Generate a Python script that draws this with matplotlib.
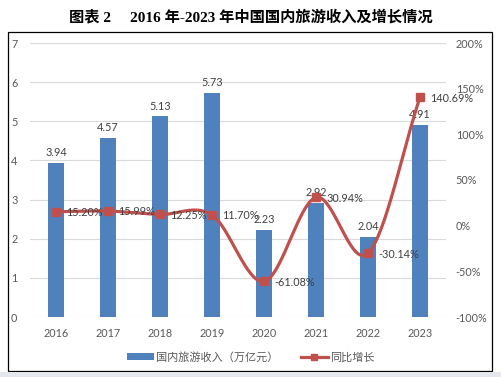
import numpy as np
import matplotlib.pyplot as plt
from matplotlib.patches import Rectangle
from matplotlib.ticker import FuncFormatter

plt.rcParams['font.family'] = ['Lato', 'Noto Sans CJK SC', 'DejaVu Sans']

# du lieu
years = ['2016', '2017', '2018', '2019', '2020', '2021', '2022', '2023']
income = [3.94, 4.57, 5.13, 5.73, 2.23, 2.92, 2.04, 4.91]          # 万亿元
growth = [15.20, 15.99, 12.25, 11.70, -61.08, 30.94, -30.14, 140.69]  # %

bar_color = '#4F81BD'
line_color = '#C0504D'
txt_color = '#595959'


def catmull_rom(xs, ys, n=40):
    # duong cong muot kieu Excel (chi de ve, khong them du lieu)
    xs = np.asarray(xs, float)
    ys = np.asarray(ys, float)
    px = np.concatenate([[2 * xs[0] - xs[1]], xs, [2 * xs[-1] - xs[-2]]])
    py = np.concatenate([[2 * ys[0] - ys[1]], ys, [2 * ys[-1] - ys[-2]]])
    out_x, out_y = [], []
    t = np.linspace(0, 1, n)
    for i in range(1, len(px) - 2):
        for p, out in ((px, out_x), (py, out_y)):
            p0, p1, p2, p3 = p[i - 1], p[i], p[i + 1], p[i + 2]
            out.extend(0.5 * ((2 * p1) + (-p0 + p2) * t
                              + (2 * p0 - 5 * p1 + 4 * p2 - p3) * t ** 2
                              + (-p0 + 3 * p1 - 3 * p2 + p3) * t ** 3))
    return np.array(out_x), np.array(out_y)


fig = plt.figure(figsize=(5.02, 3.77), dpi=100)

# khung vien
fig.patches.append(Rectangle((8 / 502, 1 - 371 / 377), 484 / 502, 339 / 377,
                             transform=fig.transFigure, fill=False,
                             edgecolor='black', linewidth=0.9))
fig.patches.append(Rectangle((0, 0), 1, 5 / 377, transform=fig.transFigure,
                             facecolor='#E4E8EE', edgecolor='none'))

fig.text(0.5, 1 - 17 / 377, '图表 2\u3000 2016 年-2023 年中国国内旅游收入及增长情况',
         ha='center', va='center', fontsize=11, fontweight='bold',
         family=['Liberation Serif', 'Noto Sans CJK SC'], color='black')

ax = fig.add_axes([30 / 502, 1 - 317 / 377, 416 / 502, 274 / 377])
x = np.arange(len(years))
bars = ax.bar(x, income, width=0.31, color=bar_color, zorder=2,
              label='国内旅游收入（万亿元）')
for xi, v in zip(x, income):
    ax.text(xi, v + 0.12, f'{v:.2f}', ha='center', va='bottom',
            fontsize=7.8, color='#404040', zorder=5)

ax.set_xlim(-0.5, len(years) - 0.5)
ax.set_ylim(0, 7)
ax.set_yticks(range(0, 8))
ax.set_xticks(x)
ax.set_xticklabels(years)
ax.grid(axis='y', color='#D9D9D9', linewidth=0.8, zorder=0)
ax.set_axisbelow(True)
for s in ax.spines.values():
    s.set_visible(False)
ax.tick_params(axis='both', length=0, labelsize=7.8, labelcolor=txt_color)
ax.tick_params(axis='y', pad=9)
ax.tick_params(axis='x', pad=8)

ax2 = ax.twinx()
ax2.set_ylim(-100, 200)
ax2.set_yticks(range(-100, 201, 50))
ax2.yaxis.set_major_formatter(FuncFormatter(lambda v, p: f'{v:.0f}%'))
for s in ax2.spines.values():
    s.set_visible(False)
ax2.tick_params(axis='y', length=0, labelsize=7.8, labelcolor=txt_color, pad=7)

sx, sy = catmull_rom(x, growth)
ax2.plot(sx, sy, color=line_color, linewidth=2.3, zorder=3,
         solid_capstyle='round')
ax2.plot(x, growth, linestyle='none', marker='s', markersize=5.8,
         color=line_color, zorder=4)
for xi, g in zip(x, growth):
    ax2.text(xi + 0.2, g - 1, f'{g:.2f}%', ha='left', va='center',
             fontsize=7.8, color='#404040', zorder=5)

# chu thich
h_line, = ax2.plot([], [], color=line_color, linewidth=2.3, marker='s',
                   markersize=5)
fig.legend([bars, h_line], ['国内旅游收入（万亿元）', '同比增长'],
           loc='center', bbox_to_anchor=(0.5, 1 - 357 / 377), ncol=2,
           frameon=False, fontsize=8, handlelength=2.4, handleheight=0.5,
           columnspacing=2, handletextpad=0.25, labelcolor=txt_color)

plt.savefig('out.png', dpi=100)
